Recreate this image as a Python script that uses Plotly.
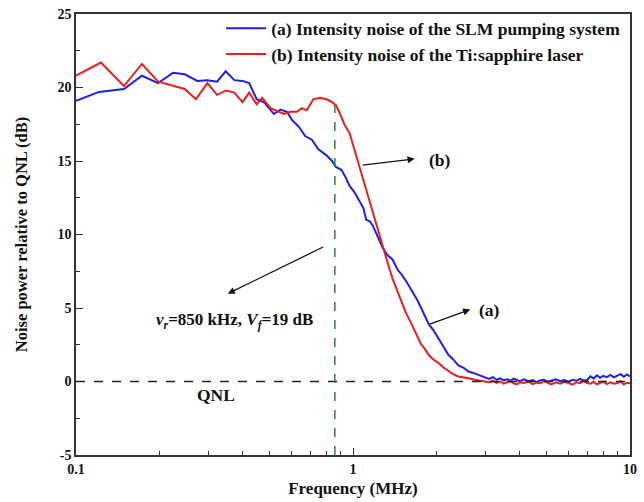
import plotly.graph_objects as go
import math

# ---- data ----
blue_x = [0.100, 0.121, 0.149, 0.173, 0.198, 0.224, 0.247, 0.274, 0.298, 0.323,
          0.347, 0.373, 0.399, 0.422, 0.449, 0.477, 0.518, 0.547, 0.578, 0.602,
          0.636, 0.672, 0.710, 0.750, 0.800, 0.840, 0.867, 0.908, 0.940, 0.972,
          1.010, 1.056, 1.090, 1.116, 1.150, 1.179, 1.220, 1.280, 1.330, 1.389,
          1.450, 1.508, 1.570, 1.638, 1.700, 1.778, 1.830, 1.877, 1.950, 2.038,
          2.120, 2.213, 2.300, 2.400, 2.500, 2.610, 2.700, 2.790, 2.890, 2.990,
          3.10, 3.20, 3.30, 3.40, 3.50, 3.60, 3.70, 3.80, 3.90, 4.00,
          4.15, 4.30, 4.45, 4.60, 4.75, 4.90, 5.05, 5.20, 5.40, 5.60,
          5.80, 6.00, 6.20, 6.40, 6.60, 6.80, 7.00, 7.20, 7.40, 7.60,
          7.80, 8.00, 8.25, 8.50, 8.75, 9.00, 9.25, 9.50, 9.75, 10.0]
blue_y = [19.1, 19.7, 19.9, 20.8, 20.3, 21.0, 20.9, 20.45, 20.5, 20.4,
          21.1, 20.5, 20.45, 20.3, 19.2, 19.0, 18.2, 18.5, 18.35, 17.8,
          17.35, 16.7, 16.45, 15.8, 15.4, 15.0, 14.6, 14.4, 13.9, 13.3,
          12.9, 12.2, 11.8, 11.0, 10.9, 10.6, 10.0, 9.1, 8.6, 8.3,
          7.6, 7.2, 6.7, 6.1, 5.6, 4.85, 4.4, 3.9, 3.5, 2.9,
          2.4, 1.8, 1.5, 1.1, 0.95, 0.68, 0.6, 0.5, 0.42, 0.27,
          0.18, 0.30, 0.12, 0.22, 0.08, 0.15, 0.05, 0.20, 0.10, 0.02,
          0.14, 0.00, 0.10, -0.04, 0.08, 0.12, -0.02, 0.06, 0.15, 0.02,
          0.10, -0.03, 0.12, 0.05, 0.18, 0.08, 0.10, 0.35, 0.20, 0.42,
          0.25, 0.38, 0.30, 0.45, 0.28, 0.40, 0.50, 0.32, 0.48, 0.35]

red_x = [0.100, 0.123, 0.149, 0.173, 0.198, 0.224, 0.247, 0.271, 0.298, 0.323,
         0.348, 0.373, 0.399, 0.422, 0.449, 0.470, 0.504, 0.563, 0.594, 0.627,
         0.654, 0.681, 0.719, 0.760, 0.803, 0.840, 0.867, 0.896, 0.933, 0.972,
         1.013, 1.056, 1.100, 1.146, 1.195, 1.245, 1.286, 1.333, 1.389, 1.467,
         1.550, 1.638, 1.700, 1.753, 1.820, 1.877, 1.950, 2.038, 2.120, 2.213,
         2.300, 2.400, 2.500, 2.610, 2.750, 2.910,
         3.10, 3.20, 3.30, 3.40, 3.50, 3.60, 3.70, 3.80, 3.90, 4.00,
         4.15, 4.30, 4.45, 4.60, 4.75, 4.90, 5.05, 5.20, 5.40, 5.60,
         5.80, 6.00, 6.20, 6.40, 6.60, 6.80, 7.00, 7.20, 7.40, 7.60,
         7.80, 8.00, 8.25, 8.50, 8.75, 9.00, 9.25, 9.50, 9.75, 10.0]
red_y = [20.8, 21.7, 20.1, 21.6, 20.4, 20.15, 19.9, 19.2, 20.3, 19.5,
         19.8, 19.65, 19.0, 19.65, 18.85, 19.3, 18.6, 18.2, 18.35, 18.35,
         18.6, 18.45, 19.2, 19.3, 19.2, 19.0, 18.8, 18.25, 17.45, 16.9,
         15.75, 14.6, 13.3, 12.2, 11.0, 9.9, 9.1, 8.1, 7.0, 5.85,
         4.7, 3.8, 3.2, 2.6, 2.2, 1.8, 1.5, 1.25, 0.95, 0.68,
         0.5, 0.34, 0.3, 0.22, 0.12, 0.04,
         -0.05, 0.05, -0.10, 0.00, -0.15, -0.05, 0.02, -0.12, -0.20, -0.05,
         -0.10, 0.00, -0.18, -0.08, -0.12, 0.02, -0.10, -0.20, -0.05, -0.15,
         0.00, -0.10, -0.22, -0.05, -0.12, 0.05, -0.10, -0.15, -0.02, -0.20,
         -0.08, 0.00, -0.18, -0.05, -0.15, -0.10, 0.02, -0.20, -0.08, -0.12]

x_ticks = [0.1, 1, 10]
x_tick_text = ["0.1", "1", "10"]
y_ticks = [-5, 0, 5, 10, 15, 20, 25]
y_tick_text = ["-5", "0", "5", "10", "15", "20", "25"]
x_minor = [m * d for d in (0.1, 1) for m in range(2, 10)]

vr_freq = 0.86       # MHz, the green marker
vf_level = 18.8      # dB, where it meets curve (b)

FONT = "Liberation Serif"
L = math.log10

fig = go.Figure()
fig.add_trace(go.Scatter(x=blue_x, y=blue_y, mode="lines",
                         line=dict(color="#1f1fe6", width=2),
                         name="(a) Intensity noise of the SLM pumping system"))
fig.add_trace(go.Scatter(x=red_x, y=red_y, mode="lines",
                         line=dict(color="#ee1c1c", width=2),
                         name="(b) Intensity noise of the Ti:sapphire laser"))

# QNL dashed line and green marker
fig.add_shape(type="line", xref="paper", x0=0, x1=1, yref="y", y0=0, y1=0,
              line=dict(color="#222222", width=1.5, dash="dash"))
fig.add_shape(type="line", xref="x", yref="y", x0=vr_freq, x1=vr_freq,
              y0=-5, y1=vf_level, line=dict(color="#2a8a2a", width=1.5, dash="dash"))

tf = dict(family=FONT, size=17.5, color="#111111", weight="bold")
arrow = dict(showarrow=True, arrowhead=2, arrowsize=1.1, arrowwidth=1.3,
             arrowcolor="#111111", axref="x", ayref="y", xref="x", yref="y")

# (b) arrow + label
fig.add_annotation(x=L(1.67), y=15.15, ax=L(1.07), ay=14.7, text="", **arrow)
fig.add_annotation(x=L(2.06), y=15.1, text="(b)", showarrow=False, font=tf,
                   xref="x", yref="y")
# (a) arrow + label
fig.add_annotation(x=L(2.65), y=4.9, ax=L(1.87), ay=3.87, text="", **arrow)
fig.add_annotation(x=L(3.12), y=4.84, text="(a)", showarrow=False, font=tf,
                   xref="x", yref="y")
# marker arrow + label
fig.add_annotation(x=L(0.353), y=5.97, ax=L(0.79), ay=9.2, text="", **arrow)
fig.add_annotation(x=L(0.374), y=4.15,
                   text="<i>v</i><sub><i>r</i></sub>=850 kHz, <i>V</i><sub><i>f</i></sub>=19 dB",
                   showarrow=False, font=dict(family=FONT, size=17, color="#111111", weight="bold"),
                   xref="x", yref="y")
fig.add_annotation(x=L(0.32), y=-0.95, text="QNL", showarrow=False, font=tf,
                   xref="x", yref="y")

axis_common = dict(showline=True, linecolor="#333333", linewidth=1.5, mirror=True,
                   ticks="inside", ticklen=7, tickwidth=1.3, tickcolor="#333333",
                   showgrid=False, zeroline=False,
                   tickfont=dict(family=FONT, size=14, color="#111111", weight="bold"))

fig.update_xaxes(type="log", range=[-1, 1], tickvals=x_ticks, ticktext=x_tick_text,
                 minor=dict(tickvals=x_minor, ticks="inside", ticklen=4,
                            tickcolor="#333333", showgrid=False),
                 title=dict(text="Frequency (MHz)", standoff=7,
                            font=dict(family=FONT, size=17, color="#111111", weight="bold")),
                 **axis_common)
fig.update_yaxes(range=[-5, 25], tickvals=y_ticks, ticktext=y_tick_text,
                 minor=dict(dtick=2.5, ticks="inside", ticklen=4,
                            tickcolor="#333333", showgrid=False),
                 title=dict(text="Noise power relative to QNL (dB)", standoff=26,
                            font=dict(family=FONT, size=16.5, color="#111111", weight="bold")),
                 **axis_common)

fig.update_layout(
    width=644, height=502,
    margin=dict(l=76, r=7, t=12, b=45),
    paper_bgcolor="white", plot_bgcolor="white",
    showlegend=True,
    legend=dict(x=0.262, y=1.008, xanchor="left", yanchor="top",
                bgcolor="rgba(0,0,0,0)", borderwidth=0, tracegroupgap=0,
                font=dict(family=FONT, size=17.5, color="#111111", weight="bold"),
                itemwidth=40),
)

fig.write_html("out.html", config={"displayModeBar": False},
               post_script="document.body.style.margin='0';document.body.style.overflow='hidden';")
